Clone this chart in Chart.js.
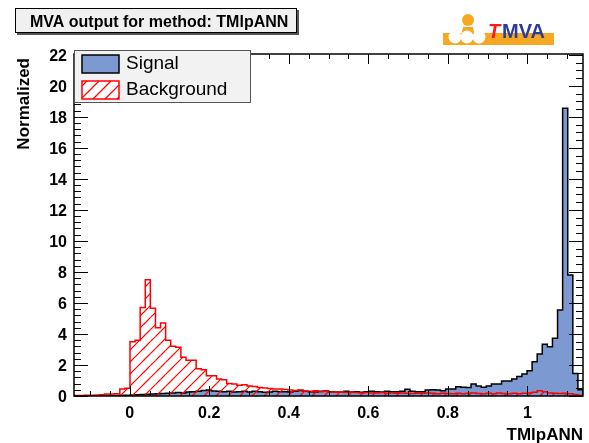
<!DOCTYPE html>
<html lang="en">
<head>
<meta charset="UTF-8">
<title>MVA output for method: TMlpANN</title>
<script src="https://cdn.jsdelivr.net/npm/chart.js"></script>
<style>
  body { margin: 0; background: #fff; }
</style>
</head>
<body>
<canvas id="mva" width="589" height="443"></canvas>
<script>
// histogram range and axis ticks
var xMin = -0.14;
var xMax = 1.14;
var xTicks = [0, 0.2, 0.4, 0.6, 0.8, 1];
var yTicks = [0, 2, 4, 6, 8, 10, 12, 14, 16, 18, 20, 22];

// bin contents (100 bins)
var signal = [
  0.02, 0.02, 0.02, 0.02, 0.03, 0.03, 0.03, 0.04, 0.04, 0.05,
  0.05, 0.06, 0.08, 0.10, 0.12, 0.13, 0.15, 0.16, 0.18, 0.20,
  0.22, 0.20, 0.25, 0.27, 0.30, 0.35, 0.38, 0.33, 0.30, 0.28,
  0.30, 0.26, 0.28, 0.30, 0.25, 0.30, 0.28, 0.24, 0.26, 0.30,
  0.28, 0.27, 0.25, 0.30, 0.35, 0.30, 0.28, 0.25, 0.30, 0.33,
  0.28, 0.25, 0.27, 0.30, 0.26, 0.28, 0.24, 0.27, 0.30, 0.28,
  0.25, 0.30, 0.27, 0.28, 0.30, 0.43, 0.30, 0.28, 0.27, 0.38,
  0.40, 0.38, 0.34, 0.45, 0.45, 0.60, 0.56, 0.54, 0.77, 0.65,
  0.56, 0.65, 0.77, 0.77, 0.97, 0.97, 1.10, 1.25, 1.42, 1.63,
  2.21, 2.71, 3.33, 3.18, 3.72, 5.55, 18.56, 7.80, 1.45, 0.40
];
var background = [
  0.04, 0.04, 0.05, 0.05, 0.05, 0.08, 0.13, 0.13, 0.14, 0.45,
  0.50, 3.50, 3.60, 5.70, 7.50, 5.65, 4.40, 4.70, 3.60, 3.20,
  3.15, 2.50, 2.30, 2.30, 1.75, 1.70, 1.30, 1.30, 1.10, 1.05,
  0.80, 0.78, 0.70, 0.72, 0.65, 0.62, 0.55, 0.52, 0.48, 0.45,
  0.45, 0.42, 0.38, 0.36, 0.38, 0.33, 0.30, 0.34, 0.28, 0.30,
  0.26, 0.24, 0.28, 0.22, 0.25, 0.22, 0.20, 0.23, 0.20, 0.19,
  0.22, 0.18, 0.20, 0.17, 0.19, 0.18, 0.16, 0.18, 0.17, 0.20,
  0.17, 0.15, 0.18, 0.16, 0.14, 0.18, 0.15, 0.17, 0.20, 0.16,
  0.14, 0.17, 0.15, 0.19, 0.16, 0.14, 0.18, 0.15, 0.17, 0.20,
  0.24, 0.34, 0.28, 0.20, 0.18, 0.16, 0.17, 0.14, 0.10, 0.05
];

var FONT = "'Liberation Sans', Arial, Helvetica, sans-serif";
var HATCH_GAP = 12;
Chart.defaults.font.family = FONT;

// step points for a histogram: bin left edges, closed down to zero at both ends
function histPoints(vals) {
  var w = (xMax - xMin) / vals.length;
  var pts = [{x: xMin, y: 0}];
  for (var i = 0; i < vals.length; i++) {
    pts.push({x: xMin + i * w, y: vals[i]});
  }
  pts.push({x: xMax, y: vals[vals.length - 1]});
  pts.push({x: xMax, y: 0});
  return pts;
}

// "/" hatch (lines x + y = const) cut by hand to one rectangle
function hatchBox(ctx, L, R, T, B) {
  if (R <= L || B <= T) return;
  var c = Math.ceil((L + T) / HATCH_GAP) * HATCH_GAP;
  ctx.beginPath();
  for (; c <= R + B; c += HATCH_GAP) {
    var x1 = Math.max(L, c - B), x2 = Math.min(R, c - T);
    if (x2 <= x1) continue;
    ctx.moveTo(x1, c - x1);
    ctx.lineTo(x2, c - x2);
  }
  ctx.stroke();
}

function seg(ctx, x1, y1, x2, y2) {
  ctx.beginPath(); ctx.moveTo(x1, y1); ctx.lineTo(x2, y2); ctx.stroke();
}

var rootStyle = {
  id: 'rootStyle',
  beforeDraw: function(chart) {
    var ctx = chart.ctx;
    ctx.save();
    ctx.fillStyle = '#fff';
    ctx.fillRect(0, 0, chart.width, chart.height);
    ctx.restore();
  },
  afterDatasetsDraw: function(chart) {
    var ctx = chart.ctx, a = chart.chartArea;
    var xs = chart.scales.x, ys = chart.scales.y;

    // hatch under the background histogram, one bin column at a time
    var pts = chart.getDatasetMeta(1).data;
    var y0 = ys.getPixelForValue(0);
    ctx.save();
    ctx.strokeStyle = '#ff0000';
    ctx.lineWidth = 1.2;
    for (var i = 0; i < pts.length - 1; i++) {
      hatchBox(ctx, pts[i].x, pts[i + 1].x, pts[i].y, y0);
    }
    ctx.restore();

    ctx.save();
    ctx.strokeStyle = '#000';
    ctx.lineWidth = 1;
    // x ticks, bottom and top
    for (var k = -2; k <= 22; k++) {
      var px = Math.round(xs.getPixelForValue(k * 0.05)) + 0.5;
      var len = (k % 4 === 0) ? 10 : 5;
      seg(ctx, px, a.bottom, px, a.bottom - len);
      seg(ctx, px, a.top, px, a.top + len);
    }
    // y ticks left (0.4 steps) and right (0.5 steps)
    for (k = 0; k <= 55; k++) {
      var py = Math.round(ys.getPixelForValue(k * 0.4)) + 0.5;
      seg(ctx, a.left, py, a.left + ((k % 5 === 0) ? 14 : 7), py);
    }
    for (k = 0; k <= 44; k++) {
      py = Math.round(ys.getPixelForValue(k * 0.5)) + 0.5;
      seg(ctx, a.right, py, a.right - ((k % 4 === 0) ? 14 : 7), py);
    }
    ctx.lineWidth = 1.5;
    ctx.strokeRect(a.left, a.top, a.right - a.left, a.bottom - a.top);
    ctx.restore();
  },
  afterDraw: function(chart) {
    var ctx = chart.ctx, a = chart.chartArea;
    ctx.save();

    // title box
    ctx.fillStyle = '#555';
    ctx.fillRect(17, 10, 282, 25);
    ctx.fillStyle = '#f0f0f0';
    ctx.fillRect(15, 8, 282, 25);
    ctx.strokeStyle = '#000';
    ctx.lineWidth = 1;
    ctx.strokeRect(15.5, 8.5, 281, 24);
    ctx.fillStyle = '#000';
    ctx.font = 'bold 16px ' + FONT;
    ctx.textBaseline = 'alphabetic';
    ctx.textAlign = 'left';
    ctx.fillText('MVA output for method: TMlpANN', 30, 27);

    // legend
    ctx.fillStyle = '#f2f2f2';
    ctx.fillRect(a.left, 50, 177, 53);
    ctx.strokeStyle = '#555';
    ctx.strokeRect(a.left + 0.5, 50.5, 176, 52);
    ctx.fillStyle = '#7d99d1';
    ctx.fillRect(82, 55, 37, 18);
    ctx.strokeStyle = '#000';
    ctx.lineWidth = 1.5;
    ctx.strokeRect(82, 55, 37, 18);
    ctx.fillStyle = '#fff';
    ctx.fillRect(82, 81, 37, 18);
    ctx.strokeStyle = '#ff0000';
    ctx.lineWidth = 1.2;
    hatchBox(ctx, 82, 119, 81, 99);
    ctx.lineWidth = 1.5;
    ctx.strokeRect(82, 81, 37, 18);
    ctx.fillStyle = '#000';
    ctx.font = '19px ' + FONT;
    ctx.textBaseline = 'middle';
    ctx.fillText('Signal', 126, 64);
    ctx.fillText('Background', 126, 90);

    // axis titles
    ctx.font = 'bold 17px ' + FONT;
    ctx.textAlign = 'right';
    ctx.textBaseline = 'alphabetic';
    ctx.fillText('TMlpANN', a.right, 440);
    ctx.save();
    ctx.translate(29, 58);
    ctx.rotate(-Math.PI / 2);
    ctx.textAlign = 'right';
    ctx.fillText('Normalized', 0, 0);
    ctx.restore();

    // TMVA logo
    ctx.fillStyle = '#f7a823';
    ctx.fillRect(443, 33, 111, 12);
    ctx.beginPath(); ctx.arc(468, 20, 6, 0, Math.PI * 2); ctx.fill();
    ctx.beginPath();
    ctx.moveTo(461, 36); ctx.lineTo(463, 27); ctx.lineTo(473, 27); ctx.lineTo(475, 36);
    ctx.closePath(); ctx.fill();
    ctx.fillStyle = '#fff';
    [455, 467, 479].forEach(function(cx) {
      ctx.beginPath(); ctx.arc(cx, 37, 6.5, 0, Math.PI * 2); ctx.fill();
    });
    ctx.textAlign = 'left';
    ctx.font = 'italic bold 20px ' + FONT;
    ctx.fillStyle = '#ff1a1a';
    ctx.fillText('T', 488, 38);
    ctx.font = 'bold 20px ' + FONT;
    ctx.fillStyle = '#2c3c96';
    ctx.fillText('MVA', 502, 38);

    ctx.restore();
  }
};

var ctx = document.getElementById('mva').getContext('2d');
var chart = new Chart(ctx, {
  type: 'line',
  data: {
    datasets: [{
      label: 'Signal',
      data: histPoints(signal),
      borderColor: '#000',
      borderWidth: 1.5,
      backgroundColor: '#7d99d1',
      fill: 'origin',
      stepped: true,
      pointRadius: 0,
      order: 2
    }, {
      label: 'Background',
      data: histPoints(background),
      borderColor: '#ff0000',
      borderWidth: 1.5,
      fill: false,
      stepped: true,
      pointRadius: 0,
      order: 1
    }]
  },
  options: {
    responsive: false,
    animation: false,
    devicePixelRatio: 1,
    layout: { padding: { top: 54, right: 6, left: 0, bottom: 0 } },
    plugins: { legend: { display: false }, tooltip: { enabled: false } },
    scales: {
      x: {
        type: 'linear',
        min: xMin,
        max: xMax,
        grid: { display: false, drawTicks: false },
        border: { display: false },
        afterBuildTicks: function(s) { s.ticks = xTicks.map(function(v) { return {value: v}; }); },
        afterFit: function(s) { s.height = 47; },
        ticks: {
          autoSkip: false,
          maxRotation: 0,
          padding: 8,
          color: '#000',
          font: { size: 16, weight: 'bold' },
          callback: function(v) { return String(Number(v.toFixed(2))); }
        }
      },
      y: {
        min: 0,
        max: 22.05,
        grid: { display: false, drawTicks: false },
        border: { display: false },
        afterBuildTicks: function(s) { s.ticks = yTicks.map(function(v) { return {value: v}; }); },
        afterFit: function(s) { s.width = 74; },
        ticks: {
          padding: 7,
          labelOffset: 2,
          color: '#000',
          font: { size: 16, weight: 'bold' }
        }
      }
    }
  },
  plugins: [rootStyle]
});
</script>
</body>
</html>
